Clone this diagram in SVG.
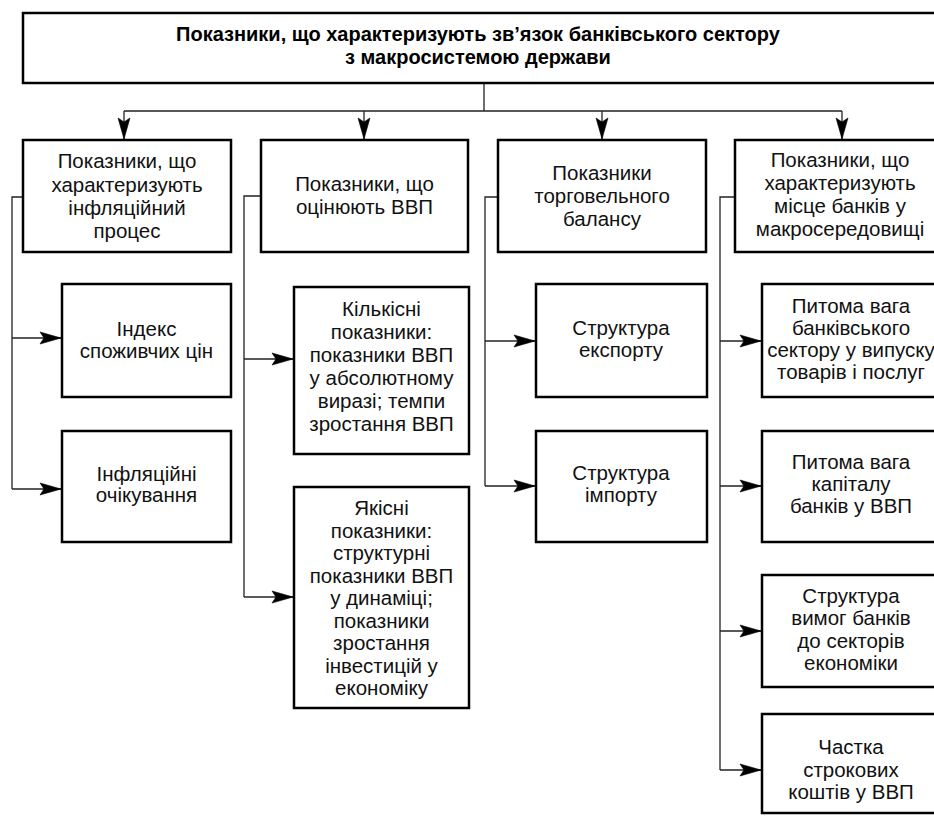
<svg xmlns="http://www.w3.org/2000/svg" width="934" height="822" viewBox="0 0 934 822">
<defs>
<marker id="arr" markerUnits="userSpaceOnUse" viewBox="0 0 21 12" markerWidth="21" markerHeight="12" refX="21" refY="6" orient="auto" overflow="visible">
<path d="M0,0 L21,6 L0,12 L4,6 z" fill="#000" stroke="#000" stroke-width="0.6" stroke-linejoin="miter"/>
</marker>
<style>
.box{fill:#fff;stroke:#000;stroke-width:2.5}
.t{font-family:"Liberation Sans",Arial,sans-serif;font-size:20.5px;fill:#111;text-anchor:middle}
.h{font-family:"Liberation Sans",Arial,sans-serif;font-size:20px;font-weight:bold;fill:#000;text-anchor:middle}
.c{fill:none;stroke:#222;stroke-width:1.3}
.a{fill:none;stroke:#222;stroke-width:1.3;marker-end:url(#arr)}
</style>
</defs>
<rect width="934" height="822" fill="#fff"/>
<g id="connectors">
<path class="c" d="M484,83 V111 M124,111 H842"/>
<path class="a" d="M124,111 V139"/>
<path class="a" d="M364,111 V139"/>
<path class="a" d="M602,111 V139"/>
<path class="a" d="M842,111 V139"/>
<path class="c" d="M23,197 H12 V489"/>
<path class="a" d="M12,338 H61"/>
<path class="a" d="M12,489 H61"/>
<path class="c" d="M261,196 H244 V597"/>
<path class="a" d="M244,359 H293"/>
<path class="a" d="M244,597 H293"/>
<path class="c" d="M498,197 H485 V486"/>
<path class="a" d="M485,341 H535"/>
<path class="a" d="M485,486 H535"/>
<path class="c" d="M735,197 H720 V770"/>
<path class="a" d="M720,341 H761"/>
<path class="a" d="M720,486 H761"/>
<path class="a" d="M720,631 H761"/>
<path class="a" d="M720,770 H761"/>
</g>
<g id="root">
<rect class="box" x="23" y="13" width="920" height="70"/>
<text class="h" x="478" y="41">Показники, що характеризують зв’язок банківського сектору</text>
<text class="h" x="478" y="64">з макросистемою держави</text>
</g>
<g id="n1">
<rect class="box" x="23" y="140" width="208" height="112"/>
<text class="t"><tspan x="127" y="168">Показники, що</tspan><tspan x="127" y="191.5">характеризують</tspan><tspan x="127" y="214.5">інфляційний</tspan><tspan x="127" y="237.5">процес</tspan></text>
</g>
<g id="n2">
<rect class="box" x="261" y="140" width="207" height="112"/>
<text class="t"><tspan x="364.5" y="191">Показники, що</tspan><tspan x="364.5" y="214">оцінюють ВВП</tspan></text>
</g>
<g id="n3">
<rect class="box" x="498" y="140" width="208" height="112"/>
<text class="t"><tspan x="602" y="180">Показники</tspan><tspan x="602" y="202.5">торговельного</tspan><tspan x="602" y="225.5">балансу</tspan></text>
</g>
<g id="n4">
<rect class="box" x="735" y="140" width="210" height="112"/>
<text class="t"><tspan x="840" y="167">Показники, що</tspan><tspan x="840" y="190">характеризують</tspan><tspan x="840" y="213">місце банків у</tspan><tspan x="840" y="236">макросередовищі</tspan></text>
</g>
<g id="n1a">
<rect class="box" x="62" y="284" width="169" height="113"/>
<text class="t"><tspan x="146.5" y="336">Індекс</tspan><tspan x="146.5" y="358">споживчих цін</tspan></text>
</g>
<g id="n1b">
<rect class="box" x="62" y="431" width="169" height="111"/>
<text class="t"><tspan x="146.5" y="481">Інфляційні</tspan><tspan x="146.5" y="502">очікування</tspan></text>
</g>
<g id="n2a">
<rect class="box" x="294" y="287" width="175" height="167"/>
<text class="t"><tspan x="381.5" y="315.5">Кількісні</tspan><tspan x="381.5" y="338.5">показники:</tspan><tspan x="381.5" y="361.5">показники ВВП</tspan><tspan x="381.5" y="384.5">у абсолютному</tspan><tspan x="381.5" y="407.5">виразі; темпи</tspan><tspan x="381.5" y="430.5">зростання ВВП</tspan></text>
</g>
<g id="n2b">
<rect class="box" x="294" y="487" width="175" height="221"/>
<text class="t"><tspan x="381.5" y="515">Якісні</tspan><tspan x="381.5" y="537.5">показники:</tspan><tspan x="381.5" y="560">структурні</tspan><tspan x="381.5" y="582.5">показники ВВП</tspan><tspan x="381.5" y="605">у динаміці;</tspan><tspan x="381.5" y="627.5">показники</tspan><tspan x="381.5" y="650">зростання</tspan><tspan x="381.5" y="672.5">інвестицій у</tspan><tspan x="381.5" y="695">економіку</tspan></text>
</g>
<g id="n3a">
<rect class="box" x="536" y="284" width="171" height="113"/>
<text class="t"><tspan x="621" y="335">Структура</tspan><tspan x="621" y="357">експорту</tspan></text>
</g>
<g id="n3b">
<rect class="box" x="536" y="431" width="171" height="111"/>
<text class="t"><tspan x="621" y="480">Структура</tspan><tspan x="621" y="502">імпорту</tspan></text>
</g>
<g id="n4a">
<rect class="box" x="762" y="284" width="178" height="113"/>
<text class="t"><tspan x="851" y="313">Питома вага</tspan><tspan x="851" y="335">банківського</tspan><tspan x="851" y="357">сектору у випуску</tspan><tspan x="851" y="379">товарів і послуг</tspan></text>
</g>
<g id="n4b">
<rect class="box" x="762" y="431" width="178" height="111"/>
<text class="t"><tspan x="851" y="469">Питома вага</tspan><tspan x="851" y="491">капіталу</tspan><tspan x="851" y="513">банків у ВВП</tspan></text>
</g>
<g id="n4c">
<rect class="box" x="762" y="575" width="178" height="112"/>
<text class="t"><tspan x="851" y="603">Структура</tspan><tspan x="851" y="625">вимог банків</tspan><tspan x="851" y="648">до секторів</tspan><tspan x="851" y="670">економіки</tspan></text>
</g>
<g id="n4d">
<rect class="box" x="762" y="714" width="178" height="99"/>
<text class="t"><tspan x="851" y="754">Частка</tspan><tspan x="851" y="776.5">строкових</tspan><tspan x="851" y="799">коштів у ВВП</tspan></text>
</g>
</svg>
